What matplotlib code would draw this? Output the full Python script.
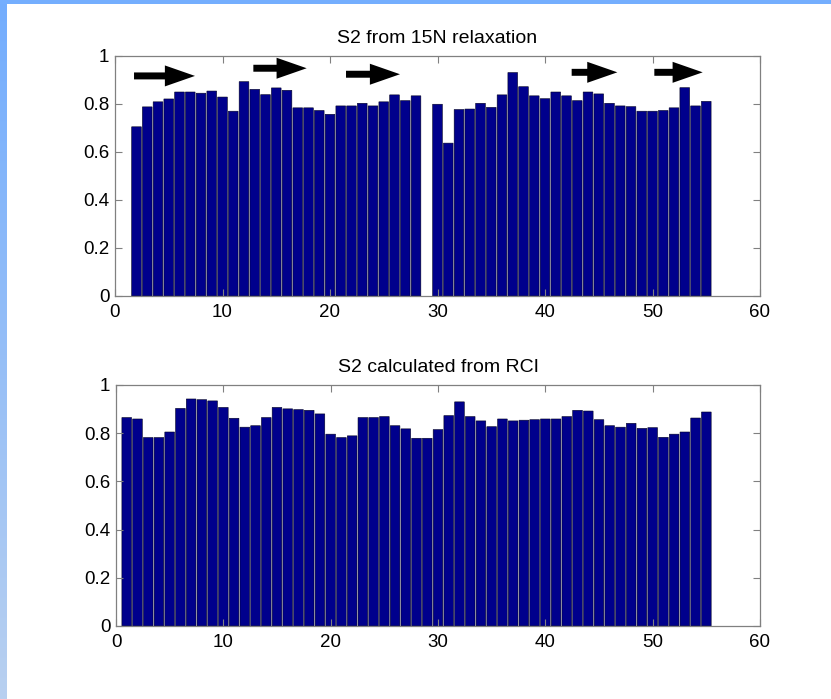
import numpy as np
import matplotlib
matplotlib.use("Agg")
import matplotlib.pyplot as plt
from matplotlib.patches import FancyArrow

plt.rcParams['font.family'] = ['Liberation Sans', 'DejaVu Sans']

# Top panel: S2 from 15N relaxation (residues 2-28, 30-55; 1 and 29 missing)
res_top = list(range(2, 29)) + list(range(30, 56))
s2_top = [0.705, 0.788, 0.809, 0.821, 0.850, 0.850, 0.845, 0.854, 0.829, 0.770,
          0.893, 0.861, 0.839, 0.867, 0.857, 0.784, 0.784, 0.773, 0.757, 0.792,
          0.792, 0.803, 0.792, 0.809, 0.838, 0.814, 0.834,
          0.799, 0.637, 0.777, 0.779, 0.803, 0.786, 0.838, 0.931, 0.872, 0.834,
          0.822, 0.850, 0.834, 0.814, 0.850, 0.842, 0.803, 0.792, 0.789, 0.770,
          0.770, 0.773, 0.784, 0.868, 0.792, 0.811]

# Bottom panel: S2 calculated from RCI (residues 1-55)
res_bot = list(range(1, 56))
s2_bot = [0.865, 0.859, 0.782, 0.782, 0.805, 0.903, 0.942, 0.939, 0.934, 0.907,
          0.862, 0.825, 0.831, 0.865, 0.907, 0.901, 0.898, 0.895, 0.880, 0.796,
          0.782, 0.789, 0.865, 0.865, 0.869, 0.831, 0.818, 0.779, 0.779,
          0.815, 0.873, 0.930, 0.869, 0.851, 0.827, 0.859, 0.851, 0.854, 0.856,
          0.859, 0.859, 0.869, 0.895, 0.892, 0.856, 0.831, 0.825, 0.841, 0.820,
          0.823, 0.783, 0.796, 0.805, 0.863, 0.888]

# Beta strands (arrows) in top panel
strand_start = [1.77, 12.87, 21.49, 42.48, 50.17]
strand_end = [7.44, 17.83, 26.51, 46.73, 54.67]
strand_y = [0.917, 0.949, 0.924, 0.932, 0.932]

titles = ["S2 from 15N relaxation", "S2 calculated from RCI"]
xticks = [0, 10, 20, 30, 40, 50, 60]
yticks = [0, 0.2, 0.4, 0.6, 0.8, 1]
yticklabels = ["0", "0.2", "0.4", "0.6", "0.8", "1"]

W, H = 831, 699
fig = plt.figure(figsize=(W / 100, H / 100), dpi=100)
fig.patch.set_facecolor('white')

# slide decoration: left gradient strip and top strip
bg = fig.add_axes([0, 0, 1, 1], zorder=-10)
bg.set_axis_off()
bg.set_xlim(0, W)
bg.set_ylim(H, 0)
c_top = np.array([0x73, 0xad, 0xfe]) / 255
c_bot = np.array([0xb8, 0xd0, 0xf0]) / 255
grad = np.linspace(0, 1, 256)[:, None, None]
img = c_top * (1 - grad) + c_bot * grad
bg.imshow(img, extent=[0, 7, H, 0], aspect='auto', interpolation='bilinear')
bg.fill_between([0, W], [0, 0], [4, 4], color='#74aefe', lw=0)

bar_color = '#00008c'
edge = '#000020'

def style(ax, title):
    ax.set_xlim(0, 60)
    ax.set_ylim(0, 1)
    ax.set_xticks(xticks)
    ax.set_yticks(yticks)
    ax.set_yticklabels(yticklabels)
    ax.tick_params(direction='in', top=True, right=True, length=5, width=0.8,
                   colors='#808080', labelcolor='black', labelsize=13.5, pad=4)
    ax.tick_params(axis='x', pad=6)
    for sp in ax.spines.values():
        sp.set_color('#808080')
        sp.set_linewidth(0.9)
    ax.set_title(title, fontsize=14, pad=9)

ax1 = fig.add_axes([115 / W, 1 - 296 / H, 645 / W, 240 / H])
bars1 = ax1.bar(res_top, s2_top, width=0.9, color=bar_color, edgecolor=edge,
                linewidth=0.4)
for b in bars1:
    b.set_snap(False)
for xs, xe, y in zip(strand_start, strand_end, strand_y):
    ax1.add_patch(FancyArrow(xs, y, xe - xs, 0, width=0.029, head_width=0.0875,
                             head_length=2.8, length_includes_head=True,
                             color='black', lw=0))
style(ax1, titles[0])

ax2 = fig.add_axes([116 / W, 1 - 626 / H, 644 / W, 241 / H])
bars2 = ax2.bar(res_bot, s2_bot, width=0.9, color=bar_color, edgecolor=edge,
                linewidth=0.4)
for b in bars2:
    b.set_snap(False)
style(ax2, titles[1])

fig.savefig('out.png', dpi=100)
